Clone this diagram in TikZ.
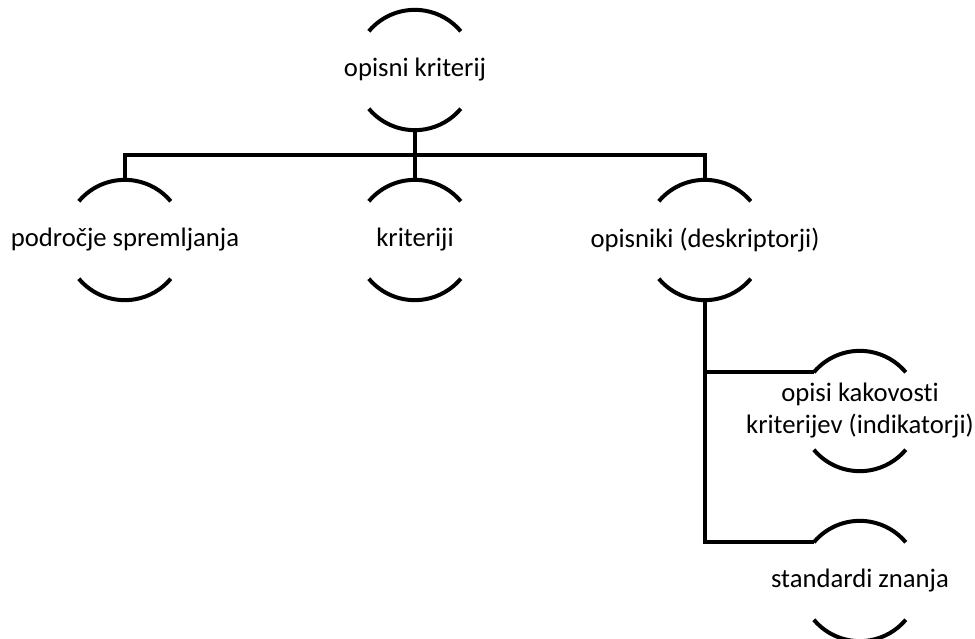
\documentclass[tikz,border=0pt]{standalone}
\usepackage{fontspec}
\setmainfont[Ligatures={NoCommon}]{Carlito}
\usetikzlibrary{arrows,positioning,shapes}

\begin{document}
\begin{tikzpicture}[node distance=217.5pt, auto]
    % Define styles
    \tikzstyle{crit} = [circle, inner sep=0pt, minimum size=90pt]
    \tikzstyle{txt} = [inner sep=0pt, align=center, font=\fontsize{20}{24}\selectfont]
    \tikzstyle{line} = [line width=3pt]

    \useasboundingbox (0,0) rectangle (731.25pt,-479.25pt);

    % Nodes
    \node [crit, label={[txt]center:opisni kriterij}] (top) at (311.25pt,-52.5pt) {};
    \node [crit, below of=top, node distance=127.5pt, label={[txt]center:kriteriji}] (krit) {};
    \node [crit, left of=krit, label={[txt]center:področje spremljanja}] (podr) {};
    \node [crit, right of=krit, label={[txt]center:opisniki (deskriptorji)}] (opis) {};
    \node [crit, below of=opis, node distance=128.25pt, xshift=116.25pt,
           label={[txt]center:opisi kakovosti\\kriterijev (indikatorji)}] (kak) {};
    \node [crit, below of=kak, node distance=127.5pt, label={[txt]center:standardi znanja}] (stand) {};

    % Arcs of each node
    \foreach \n in {top,podr,krit,opis,kak,stand} {
        \draw [line] (\n.140) arc[start angle=140, end angle=40, radius=45pt];
        \draw [line] (\n.220) arc[start angle=220, end angle=320, radius=45pt];
    }

    % Connectors
    \draw [line] (top.south) -- ++(0,-18.75pt) -| (podr.north);
    \draw [line] (top.south) -- (krit.north);
    \draw [line] (top.south) -- ++(0,-18.75pt) -| (opis.north);
    \draw [line] (opis.south) |- (kak.140);
    \draw [line] (opis.south) |- (stand.140);

\end{tikzpicture}
\end{document}
